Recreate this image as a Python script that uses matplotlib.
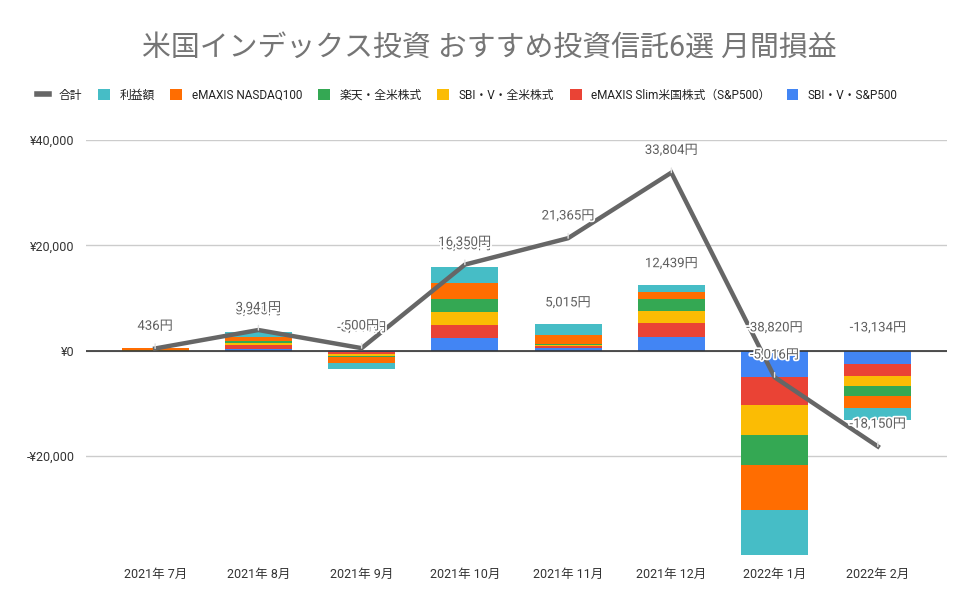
import matplotlib
matplotlib.use("Agg")
import matplotlib.pyplot as plt
import matplotlib.patheffects as pe
from matplotlib.lines import Line2D
from matplotlib.patches import Patch
import numpy as np

plt.rcParams['font.family'] = ['Roboto', 'Noto Sans CJK JP', 'DejaVu Sans']

months = ['2021年 7月', '2021年 8月', '2021年 9月', '2021年 10月',
          '2021年 11月', '2021年 12月', '2022年 1月', '2022年 2月']

# stacked from bottom to top
sbi_sp500 = [0, 400, -325, 2482, 450, 2679, -5058, -2435]
slim_sp500 = [16, 650, -260, 2482, 450, 2679, -5184, -2371]
sbi_zenbei = [200, 450, -325, 2482, 130, 2105, -5690, -1922]
rakuten_zenbei = [20, 400, -260, 2291, 190, 2296, -5690, -1858]
nasdaq100 = [200, 750, -1170, 3119, 1800, 1340, -8535, -2306]
rieki = [0, 855, -1101, 2992, 1995, 1340, -8663, -2242]

monthly_total = [436, 3505, -3441, 15850, 5015, 12439, -38820, -13134]
cumulative = [436, 3941, 500, 16350, 21365, 33804, -5016, -18150]

series = [
    ('SBI・V・S&P500', sbi_sp500, '#4285f4'),
    ('eMAXIS Slim米国株式（S&P500）', slim_sp500, '#ea4335'),
    ('SBI・V・全米株式', sbi_zenbei, '#fbbc04'),
    ('楽天・全米株式', rakuten_zenbei, '#34a853'),
    ('eMAXIS NASDAQ100', nasdaq100, '#ff6d01'),
    ('利益額', rieki, '#46bdc6'),
]

fig = plt.figure(figsize=(9.78, 6.06), dpi=100)
ax = fig.add_axes([0.0879, 0.0759, 0.8804, 0.6931])

x = np.arange(len(months))
pos_base = np.zeros(len(months))
neg_base = np.zeros(len(months))
for name, vals, col in series:
    v = np.array(vals, dtype=float)
    base = np.where(v >= 0, pos_base, neg_base)
    ax.bar(x, v, bottom=base, width=0.65, color=col, zorder=2)
    pos_base += np.where(v >= 0, v, 0)
    neg_base += np.where(v < 0, v, 0)

ax.plot(x, cumulative, color='#666666', lw=3.2, zorder=4, solid_joinstyle='miter')

halo = [pe.withStroke(linewidth=2.5, foreground='white')]
lab_color = '#5f5f5f'
for i, t in enumerate(monthly_total):
    if t >= 0:
        ax.annotate(f'{t:,}円', xy=(x[i], t), xytext=(0, 15.5), textcoords='offset points',
                    ha='center', va='center', fontsize=9.5, color=lab_color, zorder=5,
                    path_effects=halo)
    else:
        ax.annotate(f'{t:,}円', xy=(x[i], 0), xytext=(0, 16.5), textcoords='offset points',
                    ha='center', va='center', fontsize=9.5, color=lab_color, zorder=5,
                    path_effects=halo)

for i, c in enumerate(cumulative):
    ax.annotate(f'{c:,}円', xy=(x[i], c), xytext=(0, 16), textcoords='offset points',
                ha='center', va='center', fontsize=9.5, color=lab_color, zorder=6,
                path_effects=halo,
                arrowprops=dict(arrowstyle='-', color='#e0e0e0', lw=1,
                                shrinkA=6, shrinkB=0))

ax.set_xlim(-0.67, 7.67)
ax.set_ylim(-39700, 40000)
ax.set_yticks([-20000, 0, 20000, 40000])
ax.set_yticklabels(['-¥20,000', '¥0', '¥20,000', '¥40,000'])
ax.set_xticks(x)
ax.set_xticklabels(months)
ax.tick_params(axis='both', length=0, labelsize=9, colors='#333333')
ax.tick_params(axis='y', pad=8)
ax.tick_params(axis='x', pad=6)
ax.grid(axis='y', color='#cccccc', lw=1, zorder=0)
ax.axhline(0, color='#333333', lw=1.2, zorder=3)
for s in ax.spines.values():
    s.set_visible(False)

fig.text(0.5, 0.921, '米国インデックス投資 おすすめ投資信託6選 月間損益',
         ha='center', va='center', fontsize=20.8, color='#757575')

handles = [Line2D([0], [0], color='#666666', lw=4)]
labels = ['合計']
for name, vals, col in reversed(series):
    handles.append(Patch(facecolor=col))
    labels.append(name)
fig.legend(handles, labels, loc='center', bbox_to_anchor=(0.478, 0.843), ncol=7,
           frameon=False, fontsize=8.5, handlelength=1.0, handleheight=1.0,
           handletextpad=0.8, columnspacing=1.35, labelcolor='#222222')

fig.savefig('out.png', dpi=100)
